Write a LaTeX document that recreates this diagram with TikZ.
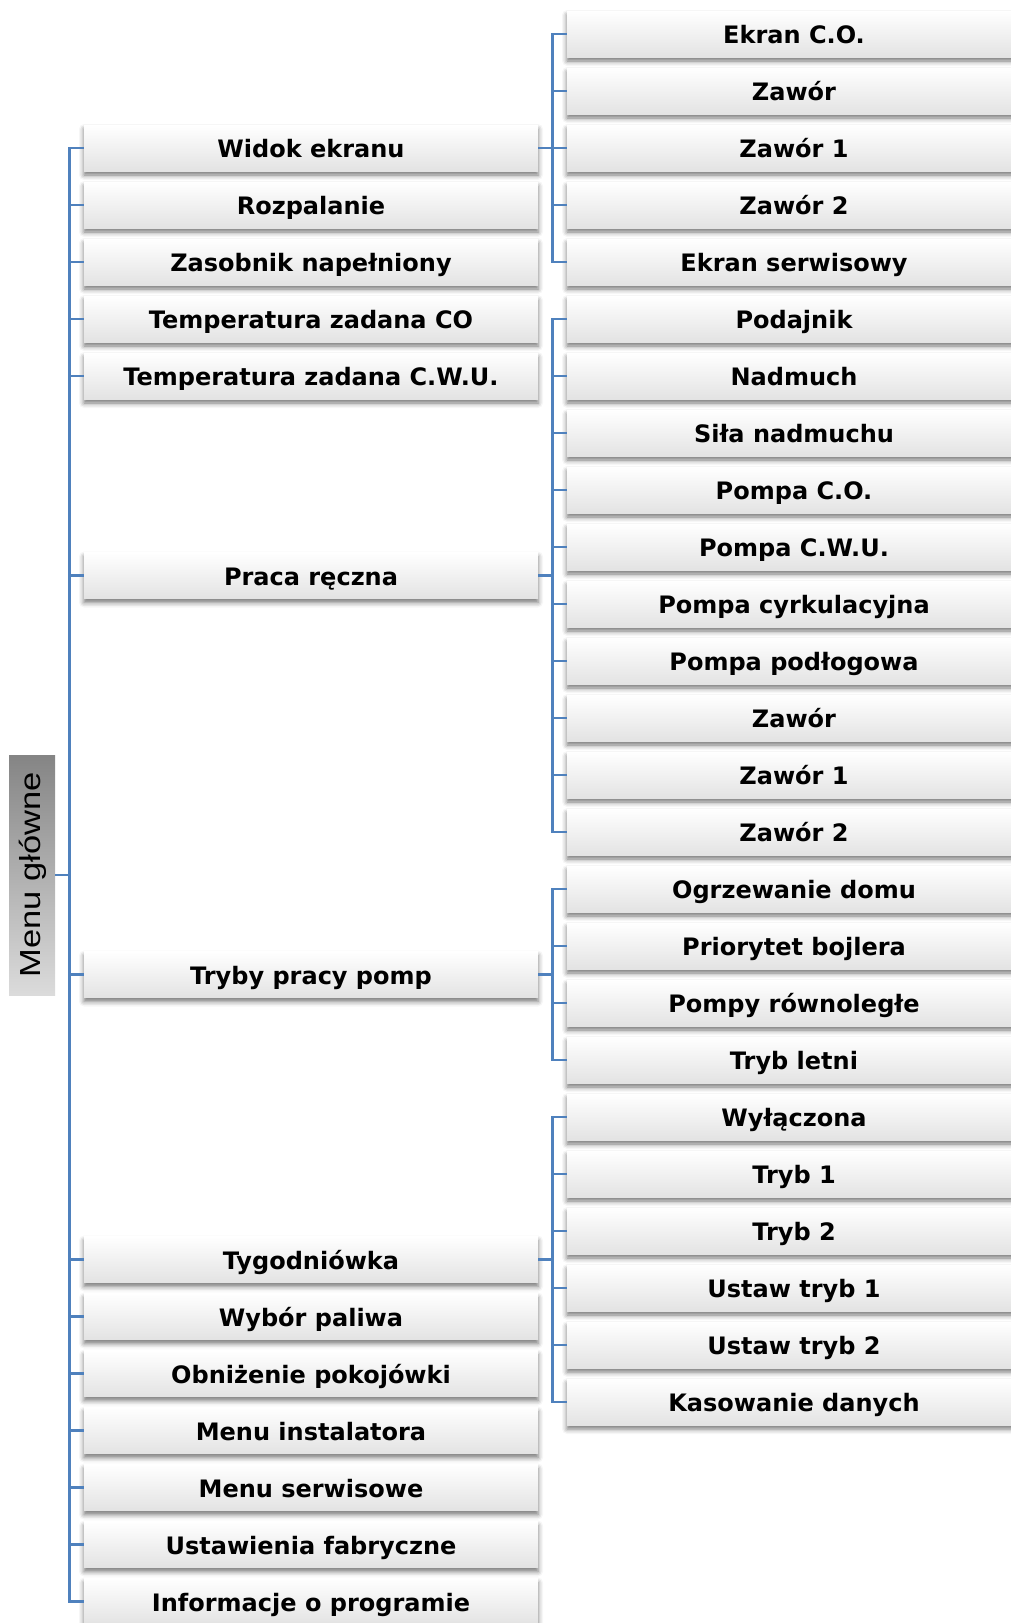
\documentclass[tikz,border=0pt]{standalone}
\usepackage{fontspec}
\newfontfamily\boxfont{DejaVu Sans}
\newfontfamily\menufont{Liberation Sans}
\usetikzlibrary{shadows.blur}
\definecolor{lineblue}{RGB}{79,129,189}
\begin{document}
\begin{tikzpicture}[x=1pt,y=-1pt,
  item/.style={minimum width=454pt, minimum height=46pt, inner sep=0pt,
    top color=white, bottom color=black!11,
    font=\boxfont\bfseries\fontsize{24}{24}\selectfont,
    text height=19.5pt, text depth=0pt,
    blur shadow={shadow xshift=0pt, shadow yshift=-4pt, shadow blur radius=5pt, shadow opacity=55}},
  link/.style={draw=lineblue, line width=2.6pt}]
\useasboundingbox (0,0) rectangle (1011,1623);
\clip (0,0) rectangle (1011,1623);

% main menu box
\node[rotate=90, minimum width=240pt, minimum height=46pt, inner sep=0pt,
  top color=black!48, middle color=black!6, bottom color=black!14,
  font=\menufont\fontsize{29}{29}\selectfont, text height=20.8pt, text depth=4pt]
  (menu) at (32,875) {\scalebox{1.19}[1]{Menu główne}};

% left column
\node[item] (L1) at (311,148) {Widok ekranu};
\node[item] (L2) at (311,205) {Rozpalanie};
\node[item] (L3) at (311,262) {Zasobnik napełniony};
\node[item] (L4) at (311,319) {Temperatura zadana CO};
\node[item] (L5) at (311,376) {Temperatura zadana C.W.U.};
\node[item] (L6) at (311,575.5) {Praca ręczna};
\node[item] (L7) at (311,974.5) {Tryby pracy pomp};
\node[item] (L8) at (311,1259.5) {Tygodniówka};
\node[item] (L9) at (311,1316.5) {Wybór paliwa};
\node[item] (L10) at (311,1373.5) {Obniżenie pokojówki};
\node[item] (L11) at (311,1430.5) {Menu instalatora};
\node[item] (L12) at (311,1487.5) {Menu serwisowe};
\node[item] (L13) at (311,1544.5) {Ustawienia fabryczne};
\node[item] (L14) at (311,1601.5) {Informacje o programie};

% right column
\node[item] (R0) at (794,34) {Ekran C.O.};
\node[item] (R1) at (794,91) {Zawór};
\node[item] (R2) at (794,148) {Zawór 1};
\node[item] (R3) at (794,205) {Zawór 2};
\node[item] (R4) at (794,262) {Ekran serwisowy};
\node[item] (R5) at (794,319) {Podajnik};
\node[item] (R6) at (794,376) {Nadmuch};
\node[item] (R7) at (794,433) {Siła nadmuchu};
\node[item] (R8) at (794,490) {Pompa C.O.};
\node[item] (R9) at (794,547) {Pompa C.W.U.};
\node[item] (R10) at (794,604) {Pompa cyrkulacyjna};
\node[item] (R11) at (794,661) {Pompa podłogowa};
\node[item] (R12) at (794,718) {Zawór};
\node[item] (R13) at (794,775) {Zawór 1};
\node[item] (R14) at (794,832) {Zawór 2};
\node[item] (R15) at (794,889) {Ogrzewanie domu};
\node[item] (R16) at (794,946) {Priorytet bojlera};
\node[item] (R17) at (794,1003) {Pompy równoległe};
\node[item] (R18) at (794,1060) {Tryb letni};
\node[item] (R19) at (794,1117) {Wyłączona};
\node[item] (R20) at (794,1174) {Tryb 1};
\node[item] (R21) at (794,1231) {Tryb 2};
\node[item] (R22) at (794,1288) {Ustaw tryb 1};
\node[item] (R23) at (794,1345) {Ustaw tryb 2};
\node[item] (R24) at (794,1402) {Kasowanie danych};

% connectors
\foreach \c in {L1,L2,L3,L4,L5,L6,L7,L8,L9,L10,L11,L12,L13,L14}
  \draw[link] (menu.south) -- ++(14,0) |- (\c.west);
\foreach \c in {R0,R1,R2,R3,R4}
  \draw[link] (L1.east) -- ++(14,0) |- (\c.west);
\foreach \c in {R5,R6,R7,R8,R9,R10,R11,R12,R13,R14}
  \draw[link] (L6.east) -- ++(14,0) |- (\c.west);
\foreach \c in {R15,R16,R17,R18}
  \draw[link] (L7.east) -- ++(14,0) |- (\c.west);
\foreach \c in {R19,R20,R21,R22,R23,R24}
  \draw[link] (L8.east) -- ++(14,0) |- (\c.west);
\end{tikzpicture}
\end{document}
